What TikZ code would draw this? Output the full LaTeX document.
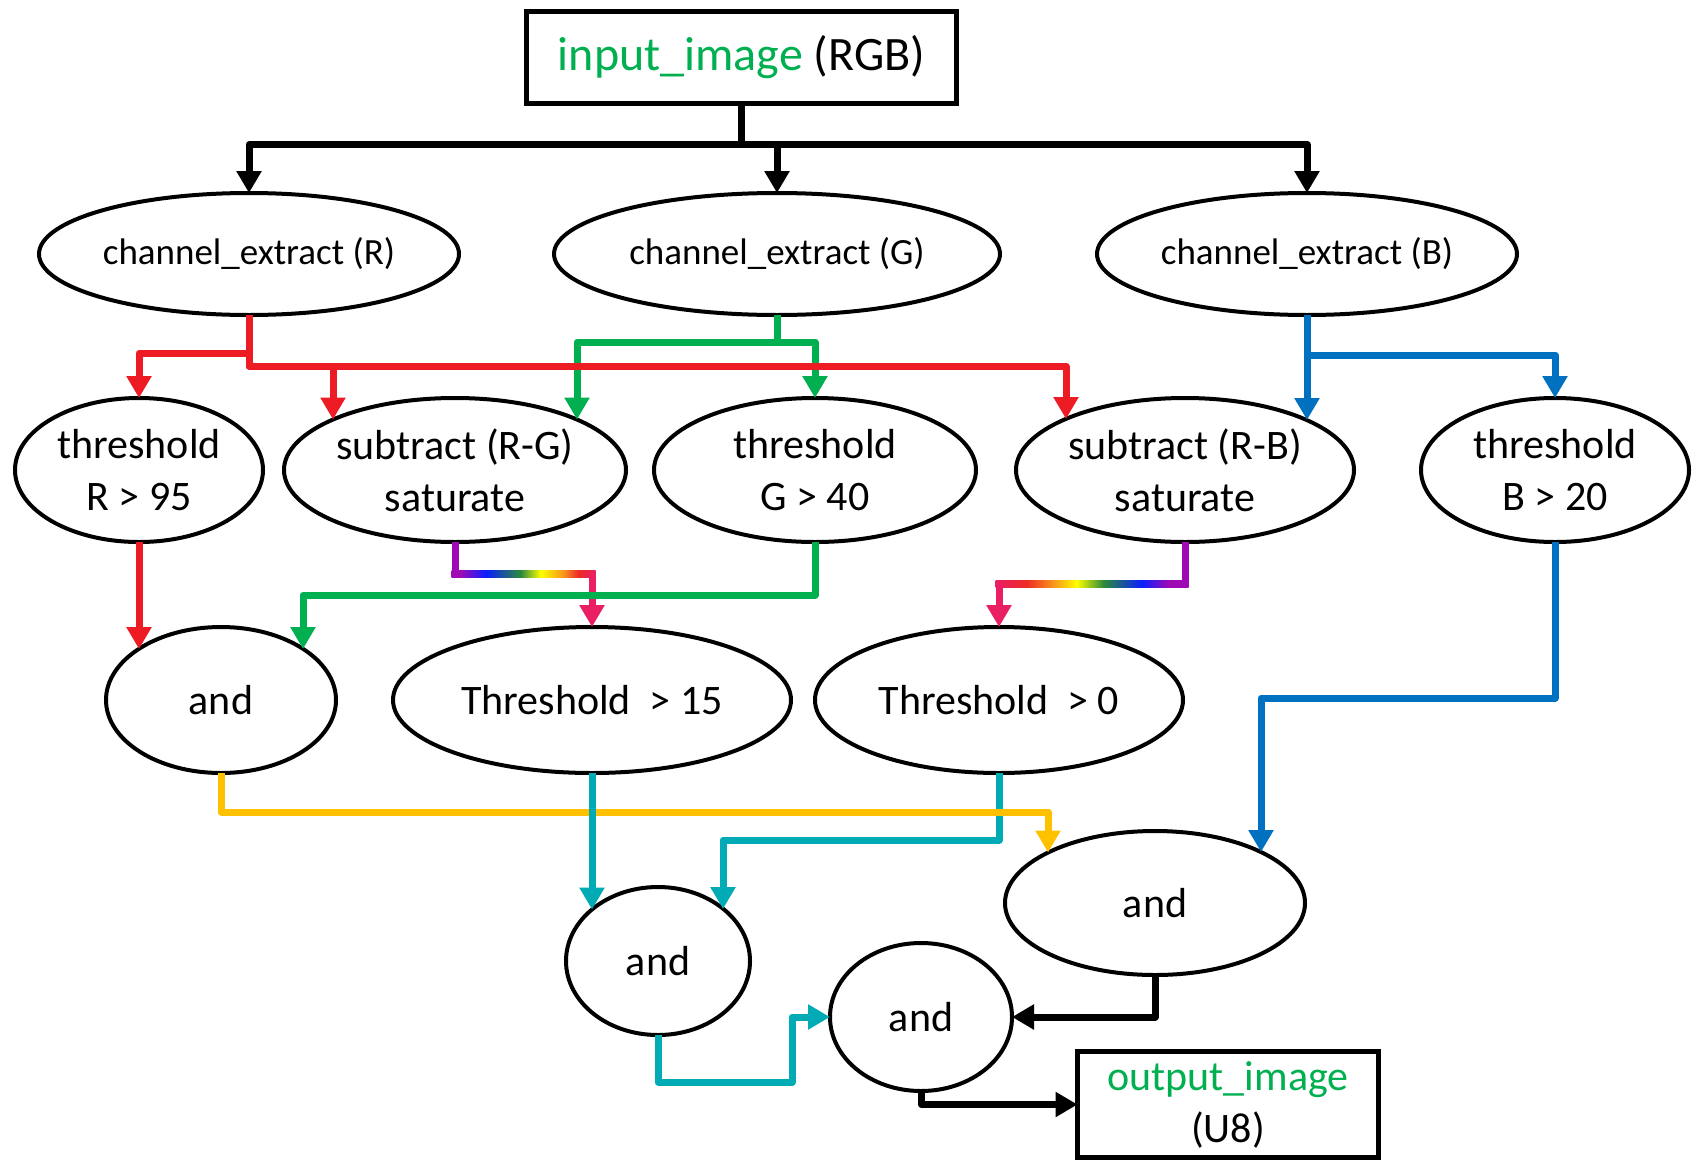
\documentclass[tikz,border=0pt]{standalone}
\usepackage{fontspec}
\setmainfont{Carlito}
\usetikzlibrary{arrows.meta,calc,shapes.geometric}
\definecolor{cRed}{HTML}{ED1C24}
\definecolor{cGreen}{HTML}{00B050}
\definecolor{cBlue}{HTML}{0070C0}
\definecolor{cGold}{HTML}{FFC000}
\definecolor{cTeal}{HTML}{00ABB5}
\definecolor{rbPurple}{HTML}{A00AB4}
\definecolor{rbBlue}{HTML}{0A1EFF}
\definecolor{rbGreen}{HTML}{2A8A3A}
\definecolor{rbYellow}{HTML}{FFFF00}
\definecolor{rbOrange}{HTML}{F7941D}
\definecolor{rbRed}{HTML}{EE2A24}
\definecolor{rbPink}{HTML}{E91E63}
\pgfdeclarehorizontalshading{rainbowA}{100bp}{color(0bp)=(rbPurple); color(28bp)=(rbPurple); color(37bp)=(rbBlue); color(49bp)=(rbGreen); color(56bp)=(rbYellow); color(64bp)=(rbOrange); color(69bp)=(rbRed); color(75bp)=(rbPink); color(100bp)=(rbPink)}
\pgfdeclarehorizontalshading{rainbowB}{100bp}{color(0bp)=(rbPink); color(25bp)=(rbPink); color(33bp)=(rbRed); color(40bp)=(rbOrange); color(46bp)=(rbYellow); color(53bp)=(rbGreen); color(63bp)=(rbBlue); color(70bp)=(rbPurple); color(100bp)=(rbPurple)}
\begin{document}
\begin{tikzpicture}[x=1pt,y=-1pt,
  ell/.style={ellipse,draw=black,line width=4pt,inner sep=0pt,outer sep=0pt,align=center},
  box/.style={rectangle,draw=black,line width=5pt,inner sep=0pt,outer sep=0pt,align=center},
  conn/.style={line width=7pt,line join=round,-{Triangle[width=24pt,length=22pt]}},
  plain/.style={line width=7pt,line join=round},
  fa/.style={font=\fontsize{37}{44}\selectfont},
  fb/.style={font=\fontsize{42}{52}\selectfont},
  fc/.style={font=\fontsize{48}{56}\selectfont},
]
\useasboundingbox (0,0) rectangle (1697,1162);

% nodes
\node[box,fc,minimum width=430pt,minimum height=92pt] (in) at (741.5,57.5) {{\color{cGreen}input\_image} (RGB)};
\node[ell,fa,minimum width=420pt,minimum height=122pt] (cR) at (249,254) {channel\_extract (R)};
\node[ell,fa,minimum width=446pt,minimum height=122pt] (cG) at (777,254) {channel\_extract (G)};
\node[ell,fa,minimum width=420pt,minimum height=122pt] (cB) at (1307,254) {channel\_extract (B)};
\node[ell,fb,minimum width=248pt,minimum height=144pt] (tR) at (139,470) {threshold\\R > 95};
\node[ell,fb,minimum width=342pt,minimum height=144pt] (sRG) at (455,470) {subtract (R-G)\\saturate};
\node[ell,fb,minimum width=322pt,minimum height=144pt] (tG) at (815,470) {threshold\\G > 40};
\node[ell,fb,minimum width=338pt,minimum height=144pt] (sRB) at (1185,470) {subtract (R-B)\\saturate};
\node[ell,fb,minimum width=268pt,minimum height=144pt] (tB) at (1555,470) {threshold\\B > 20};
\node[ell,fb,minimum width=230pt,minimum height=146pt] (and1) at (221,700) {and};
\node[ell,fb,minimum width=398pt,minimum height=146pt] (t15) at (592,700) {Threshold\ \ > 15};
\node[ell,fb,minimum width=368pt,minimum height=146pt] (t0) at (999,700) {Threshold\ \ > 0};
\node[ell,fb,minimum width=300pt,minimum height=144pt] (and2) at (1155,903) {and};
\node[ell,fb,minimum width=184pt,minimum height=148pt] (and3) at (658,961) {and};
\node[ell,fb,minimum width=182pt,minimum height=148pt] (and4) at (921,1017) {and};
\node[box,fb,minimum width=301pt,minimum height=106pt] (out) at (1228,1104.5) {{\color{cGreen}output\_image}\\(U8)};

% input to channel extracts
\draw[conn] (in.south) -- ++(0,41) -| (cR.north);
\draw[conn] (in.south) -- ++(0,41) -| (cG.north);
\draw[conn] (in.south) -- ++(0,41) -| (cB.north);

% green from G
\draw[conn,cGreen] (cG.south) -- ++(0,27) -| ($(sRG.center)+(122,-50.5)$);
\draw[conn,cGreen] (cG.south) -- ++(0,27) -| (tG.north);

% red from R
\draw[conn,cRed] (cR.south) -- ++(0,51) -| ($(sRB.center)+(-119,-51)$);
\draw[conn,cRed] (cR.south) -- ++(0,38) -| (tR.north);
\draw[conn,cRed] (cR.south) -- ++(0,51) -| ($(sRG.center)+(-122,-50.5)$);

% blue from B
\draw[conn,cBlue] (cB.south) -- ++(0,40) -| (tB.north);
\draw[conn,cBlue] (cB.south) -- ($(sRB.center)+(122,-50)$);

% red threshold to and1
\draw[conn,cRed] (tR.south) -- ($(and1.center)+(-82,-51)$);

% rainbow sRG -> t15
\coordinate (ra1) at ($(sRG.south)+(0,32)$);
\coordinate (ra2) at (ra1 -| t15.north);
\draw[plain,rbPurple] (sRG.south) -- (ra1);
\shade[shading=rainbowA] ($(ra1)+(-3.5,-3.5)$) rectangle ($(ra2)+(3.5,3.5)$);
\draw[conn,rbPink] (ra2) -- (t15.north);

% rainbow sRB -> t0
\coordinate (rb1) at ($(sRB.south)+(0,42)$);
\coordinate (rb2) at (rb1 -| t0.north);
\draw[plain,rbPurple] (sRB.south) -- (rb1);
\shade[shading=rainbowB] ($(rb2)+(-3.5,-3.5)$) rectangle ($(rb1)+(3.5,3.5)$);
\draw[conn,rbPink] (rb2) -- (t0.north);

% green threshold to and1
\draw[conn,cGreen] (tG.south) -- ++(0,53) -| ($(and1.center)+(82,-51)$);

% blue threshold to and2
\draw[conn,cBlue] (tB.south) -- ++(0,156) -| ($(and2.center)+(106,-51)$);

% teal t0 to and3
\draw[conn,cTeal] (t0.south) -- ++(0,67) -| ($(and3.center)+(65,-52)$);

% gold and1 to and2
\draw[conn,cGold] (and1.south) -- ++(0,39) -| ($(and2.center)+(-107,-50.5)$);

% teal t15 to and3
\draw[conn,cTeal] (t15.south) -- ($(and3.center)+(-66,-51.5)$);

% and2 to and4
\draw[conn] (and2.south) |- (and4.east);

% and3 to and4
\draw[conn,cTeal] (and3.south) -- ++(0,47) -| ($(and4.west)+(-38,0)$) -- (and4.west);

% and4 to output
\draw[conn] (and4.south) |- (out.west);
\end{tikzpicture}
\end{document}
